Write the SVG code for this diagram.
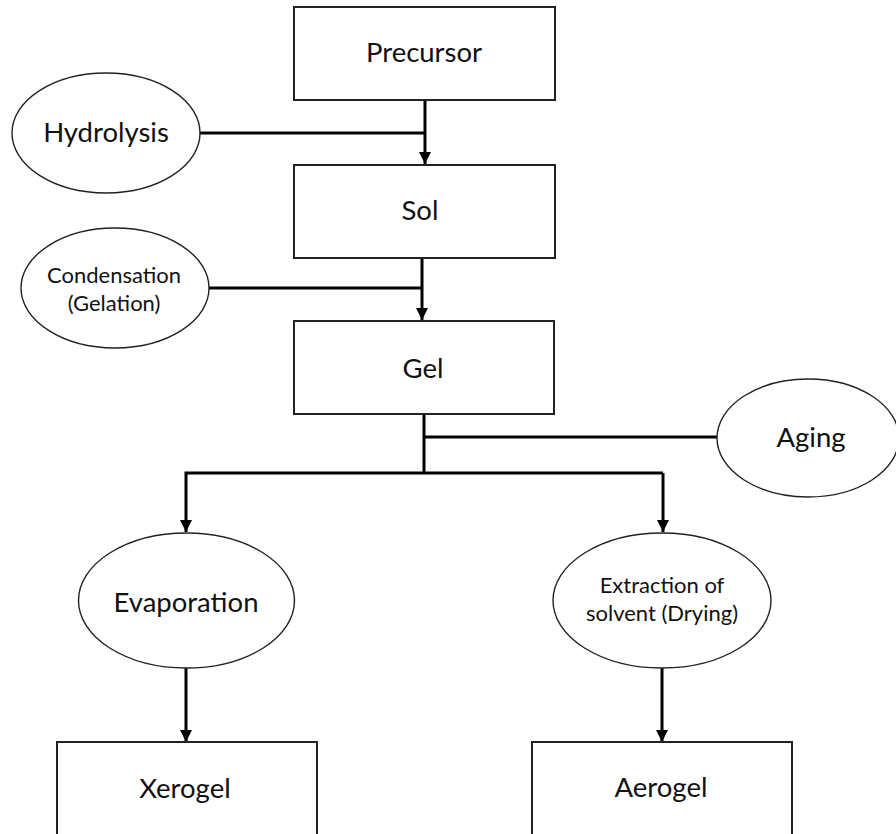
<svg xmlns="http://www.w3.org/2000/svg" width="896" height="834" viewBox="0 0 896 834">
<style>
.box{fill:#fff;stroke:#222;stroke-width:2}
.ell{fill:#fff;stroke:#222;stroke-width:1.4}
.lbl{font-family:Lato,"Liberation Sans",sans-serif;font-size:27.5px;fill:#111;text-anchor:middle}
.sm{font-size:22px}
.con{fill:none;stroke:#000;stroke-width:3}
</style>
<defs>
<marker id="arr" markerUnits="userSpaceOnUse" markerWidth="12" markerHeight="12" refX="10" refY="5" orient="auto" viewBox="0 0 10 10">
<path d="M0,0 L10,5 L0,10 Z" fill="#000"/>
</marker>
</defs>
<rect width="896" height="834" fill="#fff"/>
<g id="connectors">
<path class="con" d="M425,100 V164" marker-end="url(#arr)"/>
<path class="con" d="M200,133 H425"/>
<path class="con" d="M422,258 V320" marker-end="url(#arr)"/>
<path class="con" d="M209,288 H422"/>
<path class="con" d="M424,414 V473"/>
<path class="con" d="M424,437 H717"/>
<path class="con" d="M663,473 H186 V532" marker-end="url(#arr)"/>
<path class="con" d="M663,473 V532" marker-end="url(#arr)"/>
<path class="con" d="M186,668 V742" marker-end="url(#arr)"/>
<path class="con" d="M662,668 V742" marker-end="url(#arr)"/>
</g>
<g id="precursor"><rect class="box" x="294" y="7" width="261" height="93"/><text class="lbl" x="424" y="62">Precursor</text></g>
<g id="hydrolysis"><ellipse class="ell" cx="106" cy="133" rx="94" ry="60"/><text class="lbl" x="106" y="142">Hydrolysis</text></g>
<g id="sol"><rect class="box" x="294" y="165" width="261" height="93"/><text class="lbl" x="420" y="220">Sol</text></g>
<g id="condensation"><ellipse class="ell" cx="115" cy="288" rx="94" ry="60"/><text class="lbl sm" x="114" y="283">Condensation</text><text class="lbl sm" x="114" y="311">(Gelation)</text></g>
<g id="gel"><rect class="box" x="294" y="321" width="260" height="93"/><text class="lbl" x="423" y="378">Gel</text></g>
<g id="aging"><ellipse class="ell" cx="808" cy="438" rx="91" ry="59"/><text class="lbl" x="811" y="447">Aging</text></g>
<g id="evaporation"><ellipse class="ell" cx="186.5" cy="600.5" rx="108" ry="67.5"/><text class="lbl" x="186" y="612">Evaporation</text></g>
<g id="extraction"><ellipse class="ell" cx="662" cy="600.5" rx="109" ry="67.5"/><text class="lbl sm" x="662" y="593">Extraction of</text><text class="lbl sm" x="662" y="621">solvent (Drying)</text></g>
<g id="xerogel"><rect class="box" x="57" y="742" width="260" height="110"/><text class="lbl" x="185" y="798">Xerogel</text></g>
<g id="aerogel"><rect class="box" x="532" y="742" width="260" height="110"/><text class="lbl" x="661" y="797">Aerogel</text></g>
</svg>
